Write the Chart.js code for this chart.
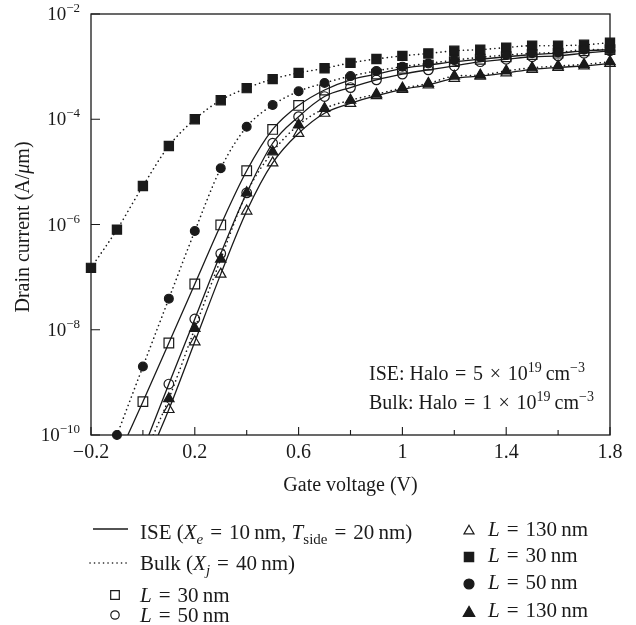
<!DOCTYPE html>
<html>
<head>
<meta charset="utf-8">
<script src="https://cdn.jsdelivr.net/npm/chart.js@4.4.0/dist/chart.umd.min.js"></script>
<style>
  html, body { margin: 0; padding: 0; background: #fff; }
  canvas { display: block; }
</style>
</head>
<body>
<canvas id="ivChart" width="636" height="625"></canvas>
<script>
// gate voltage sweep (V)
const gateVoltage = [-0.2, -0.1, 0, 0.1, 0.2, 0.3, 0.4, 0.5, 0.6, 0.7, 0.8, 0.9, 1.0, 1.1, 1.2, 1.3, 1.4, 1.5, 1.6, 1.7, 1.8];

// drain current (A/um), ISE devices
const iseL30 = [null, null, 4.3e-10, 5.6e-9, 7.4e-8, 9.8e-7, 1.05e-5, 6.4e-5, 1.83e-4, 3.6e-4, 5.6e-4, 7.2e-4, 9.3e-4, 1.07e-3, 1.24e-3, 1.38e-3, 1.54e-3, 1.7e-3, 1.8e-3, 2.0e-3, 2.1e-3];
const iseL50 = [null, null, null, 9.3e-10, 1.6e-8, 2.8e-7, 4.0e-6, 3.5e-5, 1.12e-4, 2.7e-4, 4.0e-4, 5.6e-4, 7.2e-4, 8.7e-4, 1.03e-3, 1.24e-3, 1.38e-3, 1.54e-3, 1.6e-3, 1.8e-3, 2.0e-3];
const iseL130 = [null, null, null, 3.05e-10, 5.9e-9, 1.14e-7, 1.8e-6, 1.48e-5, 5.4e-5, 1.3e-4, 2.0e-4, 2.8e-4, 3.7e-4, 4.5e-4, 6.0e-4, 6.6e-4, 7.6e-4, 8.9e-4, 9.7e-4, 1.03e-3, 1.15e-3];

// drain current (A/um), bulk devices
const bulkL30 = [1.5e-7, 8e-7, 5.4e-6, 3.1e-5, 1.0e-4, 2.3e-4, 3.9e-4, 5.8e-4, 7.6e-4, 9.3e-4, 1.18e-3, 1.4e-3, 1.6e-3, 1.78e-3, 2.0e-3, 2.1e-3, 2.3e-3, 2.5e-3, 2.5e-3, 2.6e-3, 2.85e-3];
const bulkL50 = [null, 1.0e-10, 2.0e-9, 3.9e-8, 7.5e-7, 1.17e-5, 7.2e-5, 1.86e-4, 3.4e-4, 4.9e-4, 6.6e-4, 8.3e-4, 1.0e-3, 1.15e-3, 1.33e-3, 1.5e-3, 1.66e-3, 1.8e-3, 1.85e-3, 2.1e-3, 2.1e-3];
const bulkL130 = [null, null, null, 4.9e-10, 1.06e-8, 2.2e-7, 4.0e-6, 2.4e-5, 7.8e-5, 1.6e-4, 2.3e-4, 3.0e-4, 3.9e-4, 4.8e-4, 6.6e-4, 6.9e-4, 8.3e-4, 9.5e-4, 1.03e-3, 1.1e-3, 1.24e-3];

// where each curve comes up through the 1e-10 floor (L = 30, 50, 130 nm)
const iseFloorV = [-0.058, 0.023, 0.059];
const bulkFloorV = [null, null, 0.04];

const currentFloor = 1e-10;
const currentCeil = 1e-2;
const xTickLabels = [-0.2, 0.2, 0.6, 1, 1.4, 1.8];
const xMinorTicks = [0, 0.4, 0.8, 1.2, 1.6];
const yTickExponents = [-2, -4, -6, -8, -10];

const ink = '#1a1a1a';
const serif = '"Liberation Serif", "DejaVu Serif", serif';
const eq = '\u2004=\u2004';

function toPoints(values, floorV) {
  const pts = [];
  if (floorV != null) pts.push({ x: floorV, y: currentFloor });
  values.forEach((v, i) => {
    if (v != null) pts.push({ x: gateVoltage[i], y: v });
  });
  return pts;
}

function curve(values, floorV, dotted) {
  return {
    data: toPoints(values, floorV),
    showLine: true,
    pointRadius: 0,
    borderColor: ink,
    borderWidth: dotted ? 1.6 : 1.3,
    borderDash: dotted ? [0.1, 4.4] : [],
    borderCapStyle: dotted ? 'round' : 'butt',
    cubicInterpolationMode: 'monotone',
    order: 10
  };
}

function markers(values, style, filled, radius, order) {
  return {
    data: toPoints(values, null),
    showLine: false,
    pointStyle: style,
    pointRadius: radius,
    pointBackgroundColor: filled ? ink : 'rgba(0,0,0,0)',
    pointBorderColor: ink,
    pointBorderWidth: 1.2,
    clip: false,
    order: order
  };
}

// text runs: [text, kind] with kind n | i | sub | isub | sup
function runFont(kind, size) {
  const small = kind === 'sub' || kind === 'isub' || kind === 'sup';
  const italic = kind === 'i' || kind === 'isub';
  return (italic ? 'italic ' : '') + (small ? Math.round(size * 0.7) : size) + 'px ' + serif;
}

function richText(ctx, parts, x, y, size) {
  let cx = x;
  ctx.textAlign = 'left';
  ctx.textBaseline = 'alphabetic';
  for (const [text, kind] of parts) {
    ctx.font = runFont(kind, size);
    let dy = 0;
    if (kind === 'sub' || kind === 'isub') dy = size * 0.22;
    if (kind === 'sup') dy = -size * 0.42;
    ctx.fillText(text, cx, y + dy);
    cx += ctx.measureText(text).width;
  }
  return cx;
}

function richWidth(ctx, parts, size) {
  let w = 0;
  for (const [text, kind] of parts) {
    ctx.font = runFont(kind, size);
    w += ctx.measureText(text).width;
  }
  return w;
}

function fmtTick(v) {
  return v < 0 ? '\u2212' + Math.abs(v) : String(v);
}

const framePlugin = {
  id: 'frame',
  beforeDatasetsDraw(chart) {
    const { ctx, chartArea: a, scales: { x, y } } = chart;
    ctx.save();
    ctx.strokeStyle = ink;
    ctx.lineWidth = 1.3;
    ctx.strokeRect(a.left, a.top, a.right - a.left, a.bottom - a.top);
    ctx.lineWidth = 1.1;
    ctx.beginPath();
    xTickLabels.forEach(v => {
      const px = x.getPixelForValue(v);
      ctx.moveTo(px, a.bottom);
      ctx.lineTo(px, a.bottom - 8);
    });
    xMinorTicks.forEach(v => {
      const px = x.getPixelForValue(v);
      ctx.moveTo(px, a.bottom);
      ctx.lineTo(px, a.bottom - 5);
    });
    yTickExponents.forEach(e => {
      const py = y.getPixelForValue(Math.pow(10, e));
      ctx.moveTo(a.left, py);
      ctx.lineTo(a.left + 9, py);
    });
    ctx.stroke();
    ctx.restore();
  },
  afterDraw(chart) {
    const { ctx, chartArea: a, scales: { x, y } } = chart;
    ctx.save();
    ctx.fillStyle = ink;
    ctx.strokeStyle = ink;

    // x tick labels
    ctx.font = '20px ' + serif;
    ctx.textAlign = 'center';
    ctx.textBaseline = 'alphabetic';
    xTickLabels.forEach(v => {
      ctx.fillText(fmtTick(v), x.getPixelForValue(v), a.bottom + 23);
    });

    // y tick labels, 10^n right aligned
    yTickExponents.forEach(e => {
      const parts = [['10', 'n'], ['\u2212' + Math.abs(e), 'sup']];
      const w = richWidth(ctx, parts, 19);
      richText(ctx, parts, a.left - 11 - w, y.getPixelForValue(Math.pow(10, e)) + 6, 19);
    });

    // axis titles
    ctx.font = '20px ' + serif;
    ctx.textAlign = 'center';
    ctx.fillText('Gate voltage (V)', (a.left + a.right) / 2, 491);
    ctx.save();
    ctx.translate(29, 227);
    ctx.rotate(-Math.PI / 2);
    const yTitle = [['Drain current (A/', 'n'], ['\u03bc', 'i'], ['m)', 'n']];
    richText(ctx, yTitle, -richWidth(ctx, yTitle, 20) / 2, 0, 20);
    ctx.restore();

    // doping note
    richText(ctx, [['ISE: Halo' + eq + '5\u2004\u00d7\u200410', 'n'], ['19', 'sup'], ['\u2009cm', 'n'], ['\u22123', 'sup']], 369, 380, 20);
    richText(ctx, [['Bulk: Halo' + eq + '1\u2004\u00d7\u200410', 'n'], ['19', 'sup'], ['\u2009cm', 'n'], ['\u22123', 'sup']], 369, 409, 20);

    // legend, left column
    ctx.lineWidth = 1.3;
    ctx.beginPath();
    ctx.moveTo(93, 529);
    ctx.lineTo(128, 529);
    ctx.stroke();
    richText(ctx, [['ISE (', 'n'], ['X', 'i'], ['e', 'isub'], [eq + '10\u2009nm, ', 'n'], ['T', 'i'], ['side', 'sub'], [eq + '20\u2009nm)', 'n']], 140, 539, 21);

    ctx.save();
    ctx.lineWidth = 1.6;
    ctx.lineCap = 'round';
    ctx.setLineDash([0.1, 4.4]);
    ctx.beginPath();
    ctx.moveTo(90, 563);
    ctx.lineTo(128, 563);
    ctx.stroke();
    ctx.restore();
    richText(ctx, [['Bulk (', 'n'], ['X', 'i'], ['j', 'isub'], [eq + '40\u2009nm)', 'n']], 140, 570, 21);

    const key = (style, filled, r, px, py, label, tx, ty) => {
      ctx.fillStyle = filled ? ink : 'rgba(0,0,0,0)';
      ctx.lineWidth = 1.2;
      Chart.helpers.drawPoint(ctx, { pointStyle: style, radius: r, rotation: 0, borderWidth: 1.2 }, px, py);
      ctx.fillStyle = ink;
      richText(ctx, [['L', 'i'], [eq + label + '\u2009nm', 'n']], tx, ty, 21);
    };
    key('rect', false, 6.1, 115, 595, '30', 140, 602);
    key('circle', false, 4.2, 115, 615, '50', 140, 622);

    // legend, right column
    key('triangle', false, 5.8, 469, 531, '130', 488, 536);
    key('rect', true, 6.6, 469, 557, '30', 488, 562);
    key('circle', true, 5.0, 469, 584, '50', 488, 589);
    key('triangle', true, 6.6, 469, 613, '130', 488, 617);

    ctx.restore();
  }
};

new Chart(document.getElementById('ivChart'), {
  type: 'scatter',
  data: {
    datasets: [
      markers(bulkL130, 'triangle', true, 6, 1),
      markers(bulkL50, 'circle', true, 4.4, 2),
      markers(bulkL30, 'rect', true, 6.5, 3),
      markers(iseL130, 'triangle', false, 6, 4),
      markers(iseL50, 'circle', false, 4.8, 5),
      markers(iseL30, 'rect', false, 6.8, 6),
      curve(iseL30, iseFloorV[0], false),
      curve(iseL50, iseFloorV[1], false),
      curve(iseL130, iseFloorV[2], false),
      curve(bulkL30, bulkFloorV[0], true),
      curve(bulkL50, bulkFloorV[1], true),
      curve(bulkL130, bulkFloorV[2], true)
    ]
  },
  options: {
    responsive: false,
    animation: false,
    devicePixelRatio: 1,
    layout: { padding: { left: 91, top: 14, right: 26, bottom: 190 } },
    plugins: { legend: { display: false }, tooltip: { enabled: false } },
    scales: {
      x: { type: 'linear', min: -0.2, max: 1.8, display: false },
      y: { type: 'logarithmic', min: currentFloor, max: currentCeil, display: false }
    }
  },
  plugins: [framePlugin]
});
</script>
</body>
</html>
